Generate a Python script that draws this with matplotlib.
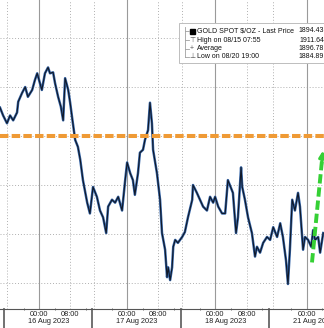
import matplotlib.pyplot as plt
import matplotlib.transforms as mtransforms
from matplotlib.patches import Rectangle

plt.rcParams['font.family'] = ['Liberation Sans', 'DejaVu Sans']

# x = chart hours (sessions back to back, weekend removed), y = $/oz
hours = [0.0, 0.8, 1.8, 2.6, 3.4, 4.4, 4.7, 5.7, 6.5, 7.2, 8.3, 9.0, 9.6, 10.3,
         10.8, 11.6, 12.4, 12.9, 13.7, 14.2, 15.0, 15.7, 16.3, 16.8, 17.6, 18.1,
         18.6, 19.4, 20.1, 20.7, 21.4, 22.5, 23.2, 24.0, 25.0, 25.8, 26.6, 27.4,
         27.9, 28.9, 29.7, 30.5, 31.5, 32.3, 32.8, 33.6, 34.3, 34.8, 35.6, 36.1,
         36.9, 37.4, 38.2, 38.7, 39.2, 39.5, 40.5, 41.3, 41.8, 42.6, 43.1, 43.4,
         43.9, 44.4, 44.7, 45.2, 45.9, 47.0, 47.7, 48.5, 49.6, 49.8, 50.8, 51.6,
         52.4, 53.4, 54.2, 55.0, 55.5, 56.3, 57.3, 58.1, 58.8, 59.6, 60.1, 60.9,
         61.4, 62.2, 62.5, 63.2, 64.0, 65.0, 65.8, 66.3, 67.1, 67.9, 68.9, 69.7,
         70.5, 71.5, 72.3, 73.0, 73.8, 74.3, 74.8, 75.4, 76.1, 76.9, 77.4, 78.2,
         78.7, 79.5, 80.3, 80.8, 81.3, 82.1, 82.6, 83.4]
price = [1902.9, 1902.1, 1901.3, 1902.1, 1901.6, 1902.4, 1903.5, 1904.4, 1905.0,
         1904.0, 1904.7, 1905.7, 1906.4, 1905.4, 1904.7, 1906.4, 1907.0, 1906.4,
         1906.5, 1905.4, 1904.0, 1903.0, 1901.6, 1905.9, 1904.7, 1903.4, 1901.9,
         1899.6, 1898.9, 1897.6, 1895.5, 1893.2, 1892.1, 1894.8, 1893.8, 1892.4,
         1891.7, 1890.1, 1892.8, 1893.5, 1893.2, 1893.8, 1892.4, 1895.5, 1897.3,
         1896.2, 1895.5, 1894.0, 1896.2, 1898.3, 1898.6, 1899.6, 1900.6, 1903.4,
         1901.3, 1898.6, 1896.2, 1893.5, 1890.1, 1888.4, 1885.6, 1886.6, 1885.3,
         1886.6, 1888.7, 1889.4, 1889.1, 1889.7, 1890.2, 1891.7, 1893.5, 1895.0,
         1894.2, 1893.5, 1892.8, 1892.4, 1893.8, 1893.2, 1893.8, 1892.8, 1892.1,
         1892.1, 1895.5, 1894.7, 1894.2, 1890.1, 1891.7, 1896.8, 1894.8, 1893.5,
         1891.7, 1890.1, 1887.7, 1888.7, 1888.1, 1889.1, 1889.7, 1889.4, 1890.7,
         1889.7, 1891.1, 1889.7, 1887.3, 1884.9, 1888.4, 1893.5, 1892.4, 1894.2,
         1892.8, 1888.4, 1889.7, 1889.4, 1888.7, 1890.4, 1889.4, 1889.7, 1888.1,
         1890.1]

day_labels = ['16 Aug 2023', '17 Aug 2023', '18 Aug 2023', '21 Aug 2023']
session_start = [1.0, 23.7, 46.7, 69.4]
midnight = [10.1, 32.8, 55.5, 79.2]
eight_am = [18.1, 40.8, 63.7]
open_grid = [1.8, 24.3, 47.0, 70.5]
price_grid = [1885, 1890, 1895, 1900, 1905, 1910]
resistance = 1900
arrow_from = (80.5, 1887.1)
arrow_to = (83.4, 1898.8)

legend_names = ['GOLD SPOT $/OZ - Last Price', 'High on 08/15 07:55',
                'Average', 'Low on 08/20 19:00']
legend_values = ['1894.43', '1911.64', '1896.78', '1884.89']
legend_marks = ['', '\u22a4', '+', '\u22a5']

fig = plt.figure(figsize=(3.24, 3.28), dpi=100)
ax = fig.add_axes([0, 19 / 328, 1, 309 / 328])
ax.set_xlim(0, 83.6)
ax.set_ylim(1882.35, 1913.88)

# grid
for p in price_grid:
    ax.axhline(p, color='#b0b0b0', lw=0.7, dashes=(1, 2), zorder=1)
for x in eight_am + open_grid:
    ax.axvline(x, color='#b0b0b0', lw=0.7, dashes=(1, 2), zorder=1)
for x in midnight:
    ax.axvline(x, color='#9a9a9a', lw=0.8, zorder=1)

# price: blue body with dark core
ax.plot(hours, price, color='#3565a8', lw=1.8, zorder=3)
ax.plot(hours, price, color='#101827', lw=0.8, zorder=3)

ax.axhline(resistance, color='#ef9a35', lw=2.9, dashes=(2.1, 0.8), zorder=4)

# green arrow
ax.plot([arrow_from[0], arrow_to[0] - 0.35], [arrow_from[1], arrow_to[1] - 1.4],
        color='#35d035', lw=2.8, dashes=(2.4, 1.0), zorder=5)
ax.annotate('', xy=arrow_to, xytext=(arrow_to[0] - 0.5, arrow_to[1] - 2.0),
            arrowprops=dict(arrowstyle='-|>', color='#35d035', lw=2.2,
                            mutation_scale=9), zorder=5, annotation_clip=False)

# x axis
for s in ['left', 'top', 'right']:
    ax.spines[s].set_visible(False)
ax.spines['bottom'].set_color('#555555')
ax.spines['bottom'].set_linewidth(0.8)
ax.set_yticks([])
ticks = sorted(midnight + eight_am)
ax.set_xticks(ticks)
ax.set_xticklabels(['00:00' if t in midnight else '08:00' for t in ticks],
                   fontsize=5.3, color='#222222')
ax.tick_params(axis='x', length=0, pad=1.2)
minor = [m + d for m in midnight for d in (-4, 4, 12)]
ax.set_xticks([m for m in minor if 0 < m < 83.6], minor=True)
ax.tick_params(axis='x', which='minor', length=2, width=0.6, color='#555555',
               direction='inout')

trans = mtransforms.blended_transform_factory(ax.transData, ax.transAxes)
for s in session_start:
    ax.plot([s, s], [0, -0.065], color='#666666', lw=1.3, transform=trans,
            clip_on=False)
for i, lab in enumerate(day_labels):
    ax.text(session_start[i] + 11.5, -0.042, lab, transform=trans, fontsize=5.3,
            ha='center', va='center', color='#222222', clip_on=False)

# legend box drawn in pixel coordinates
ov = fig.add_axes([0, 0, 1, 1])
ov.set_xlim(0, 324)
ov.set_ylim(328, 0)
ov.axis('off')
ov.add_patch(Rectangle((179, 23), 150, 40, facecolor='white',
                       edgecolor='#bdbdbd', lw=0.7))
row_y = [31, 40, 48.5, 57]
ov.plot([185, 185], [27, 57], color='#a0a0a0', lw=0.6)
for y in row_y:
    ov.plot([185, 188.5], [y, y], color='#a0a0a0', lw=0.6)
ov.add_patch(Rectangle((189.5, 28.5), 5, 5, facecolor='black', edgecolor='black'))
for i, y in enumerate(row_y):
    if legend_marks[i]:
        ov.text(192, y, legend_marks[i], fontsize=5, ha='center', va='center',
                color='#555555')
    ov.text(197, y, legend_names[i], fontsize=5.0, ha='left', va='center',
            color='#111111')
    ov.text(324, y, legend_values[i], fontsize=5.0, ha='right', va='center',
            color='#111111')

fig.savefig('out.png', dpi=100, facecolor='white')
